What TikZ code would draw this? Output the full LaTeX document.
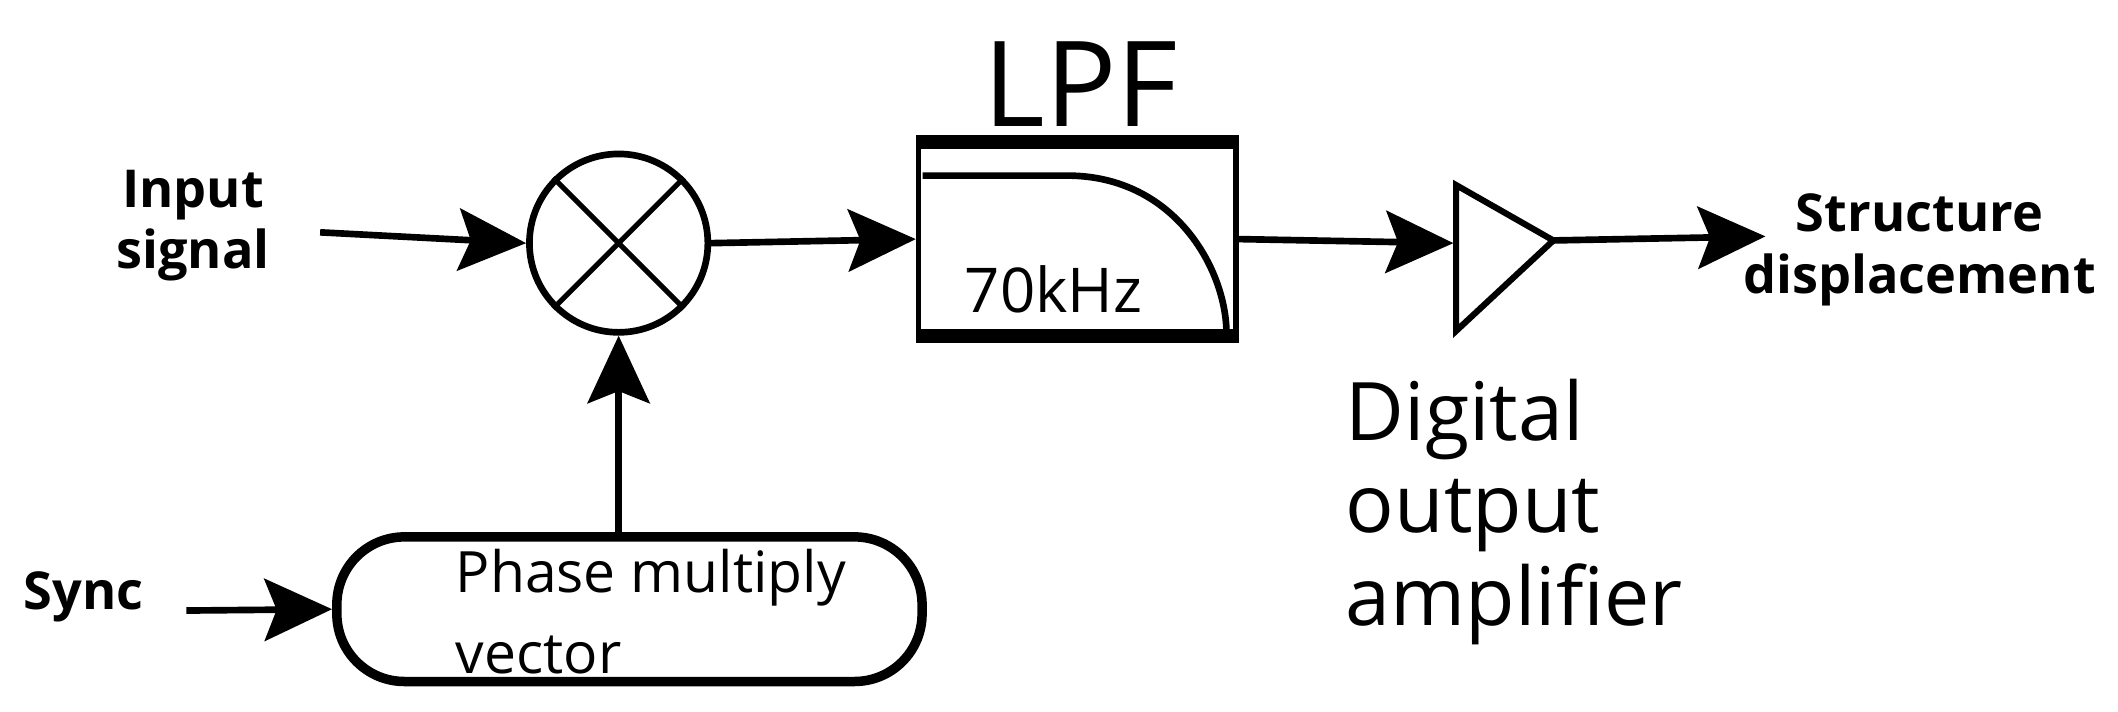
\documentclass[tikz,border=0pt]{standalone}
\usepackage{fontspec}
\setmainfont{Open Sans}
\usetikzlibrary{arrows.meta,shapes.geometric}

\tikzset{
  sig/.style={line width=1.4pt, -{Stealth[length=0.5cm,width=0.46cm,inset=0.09cm]}},
  lbl/.style={font=\bfseries\fontsize{11}{13}\selectfont, align=center},
  big/.style={font=\fontsize{17}{19.5}\selectfont, align=left},
}

\begin{document}
\begin{tikzpicture}[x=0.01cm,y=-0.01cm]
    \useasboundingbox (0,0) rectangle (1568,527);

    % mixer
    \node[circle, draw, line width=1.4pt, minimum size=1.32cm, inner sep=0pt] (mix) at (458,180) {};
    \draw[line width=1.1pt] (mix.45) -- (mix.225) (mix.135) -- (mix.315);

    % low pass filter
    \node[draw, line width=1.1pt, minimum width=2.35cm, minimum height=1.4cm, inner sep=0pt] (lpf) at (797.5,177) {};
    \draw[line width=3pt] (lpf.north west) -- (lpf.north east);
    \draw[line width=3pt] (lpf.south west) -- (lpf.south east);
    \draw[line width=1.4pt] (683,130) -- (790,130) .. controls (870,130) and (908,200) .. (908,247);
    \node[font=\fontsize{13}{16}\selectfont] (cut) at (780,214) {70kHz};
    \node[font=\fontsize{25}{28}\selectfont] (lpfname) at (800,62) {LPF};

    % amplifier
    \coordinate (amptop) at (1078,137);
    \coordinate (ampbot) at (1078,245);
    \coordinate (amptip) at (1150,178);
    \draw[line width=1.3pt] (amptop) -- (amptip) -- (ampbot) -- cycle;
    \coordinate (ampin) at (1076,180);
    \node[big, anchor=north west] (ampname) at (984,268) {Digital\\output\\amplifier};

    % phase vector
    \node[draw, rounded corners=0.5cm, line width=2pt, minimum width=4.33cm, minimum height=1.07cm] (pmv) at (466,451) {};
    \node[font=\fontsize{12}{14}\selectfont, anchor=west] (pmvtop) at (325,428) {Phase multiply};
    \node[font=\fontsize{12}{14}\selectfont, anchor=west] (pmvbot) at (325,485) {vector};

    % labels
    \node[lbl] (in) at (143,167) {Input\\signal};
    \node[lbl] (sync) at (62,442) {Sync};
    \node[lbl] (out) at (1421,185) {Structure\\displacement};

    \coordinate (inend) at (237,172);
    \coordinate (syncend) at (138,452);
    \coordinate (outend) at (1307,175);

    % connectors
    \draw[sig] (inend) -- (mix.west);
    \draw[sig] (mix.east) -- (lpf.west);
    \draw[sig] (lpf.east) -- (ampin);
    \draw[sig] (amptip) -- (outend);
    \draw[sig] (syncend) -- (pmv.west);
    \draw[sig] (pmv.north -| mix.south) -- (mix.south);
\end{tikzpicture}
\end{document}
